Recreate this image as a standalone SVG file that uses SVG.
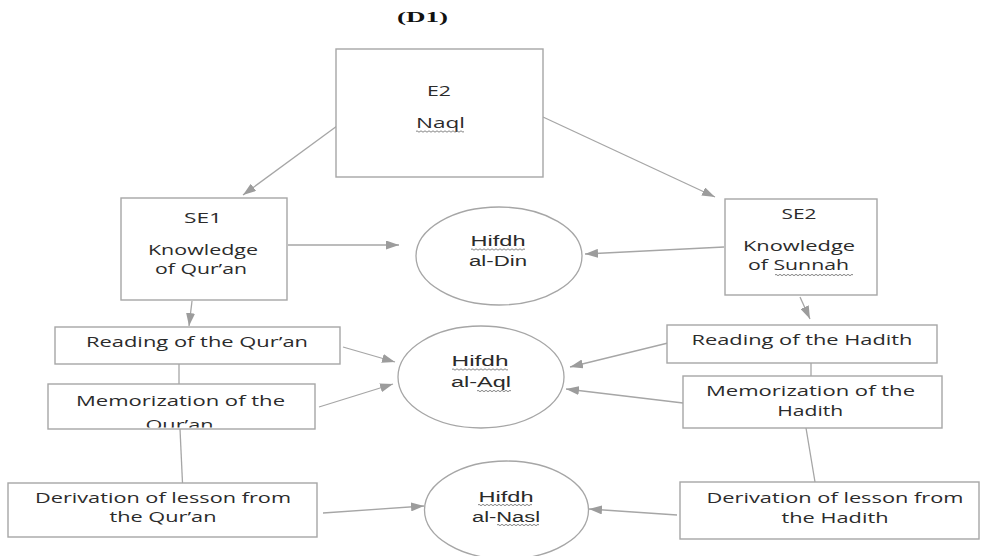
<svg xmlns="http://www.w3.org/2000/svg" width="981" height="556" viewBox="0 0 981 556">
<style>
.bx{fill:#fff;stroke:#a6a6a6;stroke-width:1.4}
.cl{fill:#fff;stroke:#a6a6a6;stroke-width:1.3}
.t{font-family:"Open Sans","Liberation Sans",sans-serif;font-size:15px;fill:#2b2b2b;text-anchor:middle}
.se{font-size:14px}
.kn{font-size:15px}
.ct{font-family:"Liberation Sans","Open Sans",sans-serif;font-size:14px;fill:#2b2b2b;text-anchor:middle}
.wv{fill:none;stroke:#666;stroke-width:0.8}
.ln{stroke:#a6a6a6;stroke-width:1.3;fill:none}
.ar{marker-end:url(#ah)}
</style>
<defs>
<marker id="ah" markerUnits="userSpaceOnUse" markerWidth="13" markerHeight="9" viewBox="0 0 13 9" refX="13" refY="4.5" orient="auto">
<path d="M0,0 L13,4.5 L0,9 z" fill="#9c9c9c"/>
</marker>
<clipPath id="clipMQ"><rect x="48" y="384" width="267" height="43.5"/></clipPath>
</defs>
<rect width="981" height="556" fill="#fff"/>
<text x="422.5" y="22" font-family="Liberation Serif,serif" font-weight="bold" font-size="15" fill="#111" text-anchor="middle" textLength="51" lengthAdjust="spacingAndGlyphs">(D1)</text>

<g id="connectors">
<line class="ln ar" x1="337" y1="126" x2="243" y2="195"/>
<line class="ln ar" x1="543" y1="117" x2="715" y2="197"/>
<line class="ln ar" x1="288" y1="245" x2="399" y2="245"/>
<line class="ln ar" x1="724" y1="247" x2="585" y2="254"/>
<line class="ln ar" x1="192" y1="301" x2="189" y2="326"/>
<line class="ln ar" x1="800" y1="297" x2="810" y2="319"/>
<line class="ln" x1="179" y1="364" x2="179" y2="384"/>
<line class="ln" x1="811" y1="363" x2="811" y2="376"/>
<line class="ln" x1="180" y1="429" x2="182.5" y2="483"/>
<line class="ln" x1="806" y1="428" x2="815" y2="482"/>
<line class="ln ar" x1="343" y1="347" x2="395" y2="362"/>
<line class="ln ar" x1="319" y1="407" x2="393" y2="384"/>
<line class="ln ar" x1="668" y1="343" x2="570" y2="367"/>
<line class="ln ar" x1="683" y1="403" x2="566" y2="389"/>
<line class="ln ar" x1="323" y1="513" x2="424" y2="506"/>
<line class="ln ar" x1="677" y1="515" x2="589" y2="509"/>
</g>

<g id="E2">
<rect class="bx" x="336" y="49" width="207" height="128"/>
<text class="t" x="439" y="95.5" textLength="24" lengthAdjust="spacingAndGlyphs">E2</text>
<text class="t" x="440.5" y="128" textLength="49" lengthAdjust="spacingAndGlyphs">Naql</text>
<path class="wv" d="M416 131.5 q1 -1.4 2 0 t2 0 t2 0 t2 0 t2 0 t2 0 t2 0 t2 0 t2 0 t2 0 t2 0 t2 0 t2 0 t2 0 t2 0 t2 0 t2 0 t2 0 t2 0 t2 0 t2 0 t2 0 t2 0 t2 0"/>
</g>

<g id="SE1">
<rect class="bx" x="121" y="198" width="166" height="102"/>
<text class="t se" x="203" y="223" textLength="38" lengthAdjust="spacingAndGlyphs">SE1</text>
<text class="t kn" x="203" y="255" textLength="110" lengthAdjust="spacingAndGlyphs">Knowledge</text>
<text class="t kn" x="201" y="273.5" textLength="92" lengthAdjust="spacingAndGlyphs">of Qur’an</text>
</g>

<g id="SE2">
<rect class="bx" x="725" y="199" width="152" height="96"/>
<text class="t se" x="799" y="219" textLength="35" lengthAdjust="spacingAndGlyphs">SE2</text>
<text class="t kn" x="799" y="251" textLength="112" lengthAdjust="spacingAndGlyphs">Knowledge</text>
<text class="t kn" x="798.5" y="270" textLength="101" lengthAdjust="spacingAndGlyphs">of Sunnah</text>
<path class="wv" d="M775 275 q1 -1.4 2 0 t2 0 t2 0 t2 0 t2 0 t2 0 t2 0 t2 0 t2 0 t2 0 t2 0 t2 0 t2 0 t2 0 t2 0 t2 0 t2 0 t2 0 t2 0 t2 0 t2 0 t2 0 t2 0 t2 0 t2 0 t2 0 t2 0 t2 0 t2 0 t2 0 t2 0 t2 0 t2 0 t2 0 t2 0 t2 0 t2 0 t2 0 t2 0"/>
</g>

<g id="HifdhDin">
<ellipse class="cl" cx="499" cy="256" rx="83" ry="49"/>
<text class="ct" x="498" y="245.5" textLength="55" lengthAdjust="spacingAndGlyphs">Hifdh</text>
<path class="wv" d="M471 249.5 q1 -1.4 2 0 t2 0 t2 0 t2 0 t2 0 t2 0 t2 0 t2 0 t2 0 t2 0 t2 0 t2 0 t2 0 t2 0 t2 0 t2 0 t2 0 t2 0 t2 0 t2 0 t2 0 t2 0 t2 0 t2 0 t2 0 t2 0 t2 0"/>
<text class="ct" x="498" y="266" textLength="58" lengthAdjust="spacingAndGlyphs">al-Din</text>
</g>

<g id="HifdhAql">
<ellipse class="cl" cx="481" cy="377" rx="83" ry="51"/>
<text class="ct" x="480" y="365.5" textLength="57" lengthAdjust="spacingAndGlyphs">Hifdh</text>
<path class="wv" d="M452 369.5 q1 -1.4 2 0 t2 0 t2 0 t2 0 t2 0 t2 0 t2 0 t2 0 t2 0 t2 0 t2 0 t2 0 t2 0 t2 0 t2 0 t2 0 t2 0 t2 0 t2 0 t2 0 t2 0 t2 0 t2 0 t2 0 t2 0 t2 0 t2 0 t2 0"/>
<text class="ct" x="481" y="386.5" textLength="60" lengthAdjust="spacingAndGlyphs">al-Aql</text>
<path class="wv" d="M477 391 q1 -1.4 2 0 t2 0 t2 0 t2 0 t2 0 t2 0 t2 0 t2 0 t2 0 t2 0 t2 0 t2 0 t2 0 t2 0 t2 0 t2 0 t2 0"/>
</g>

<g id="HifdhNasl">
<ellipse class="cl" cx="506.5" cy="510" rx="82" ry="49"/>
<text class="ct" x="506" y="501.5" textLength="55" lengthAdjust="spacingAndGlyphs">Hifdh</text>
<path class="wv" d="M478 505 q1 -1.4 2 0 t2 0 t2 0 t2 0 t2 0 t2 0 t2 0 t2 0 t2 0 t2 0 t2 0 t2 0 t2 0 t2 0 t2 0 t2 0 t2 0 t2 0 t2 0 t2 0 t2 0 t2 0 t2 0 t2 0 t2 0 t2 0 t2 0"/>
<text class="ct" x="506" y="521.5" textLength="68" lengthAdjust="spacingAndGlyphs">al-Nasl</text>
<path class="wv" d="M497 525 q1 -1.4 2 0 t2 0 t2 0 t2 0 t2 0 t2 0 t2 0 t2 0 t2 0 t2 0 t2 0 t2 0 t2 0 t2 0 t2 0 t2 0 t2 0 t2 0 t2 0 t2 0 t2 0"/>
</g>

<g id="ReadingQuran">
<rect class="bx" x="55" y="327" width="285" height="37"/>
<text class="t" x="197" y="346.5" textLength="222" lengthAdjust="spacingAndGlyphs">Reading of the Qur’an</text>
</g>

<g id="MemorizationQuran">
<rect class="bx" x="48" y="384" width="267" height="45"/>
<text class="t" x="180.5" y="405.5" textLength="209" lengthAdjust="spacingAndGlyphs">Memorization of the</text>
<text class="t" x="179.5" y="429.5" textLength="68" lengthAdjust="spacingAndGlyphs" clip-path="url(#clipMQ)">Qur’an</text>
</g>

<g id="DerivationQuran">
<rect class="bx" x="8" y="483" width="309" height="54"/>
<text class="t" x="163" y="503" textLength="256" lengthAdjust="spacingAndGlyphs">Derivation of lesson from</text>
<text class="t" x="163" y="522" textLength="107" lengthAdjust="spacingAndGlyphs">the Qur’an</text>
</g>

<g id="ReadingHadith">
<rect class="bx" x="667" y="325" width="270" height="38"/>
<text class="t" x="802" y="345" textLength="221" lengthAdjust="spacingAndGlyphs">Reading of the Hadith</text>
</g>

<g id="MemorizationHadith">
<rect class="bx" x="683" y="376" width="259" height="52"/>
<text class="t" x="810.5" y="395.5" textLength="209" lengthAdjust="spacingAndGlyphs">Memorization of the</text>
<text class="t" x="810.3" y="416" textLength="66" lengthAdjust="spacingAndGlyphs">Hadith</text>
</g>

<g id="DerivationHadith">
<rect class="bx" x="680" y="482" width="299" height="57"/>
<text class="t" x="835" y="502.5" textLength="257" lengthAdjust="spacingAndGlyphs">Derivation of lesson from</text>
<text class="t" x="835" y="522.5" textLength="107" lengthAdjust="spacingAndGlyphs">the Hadith</text>
</g>
</svg>
